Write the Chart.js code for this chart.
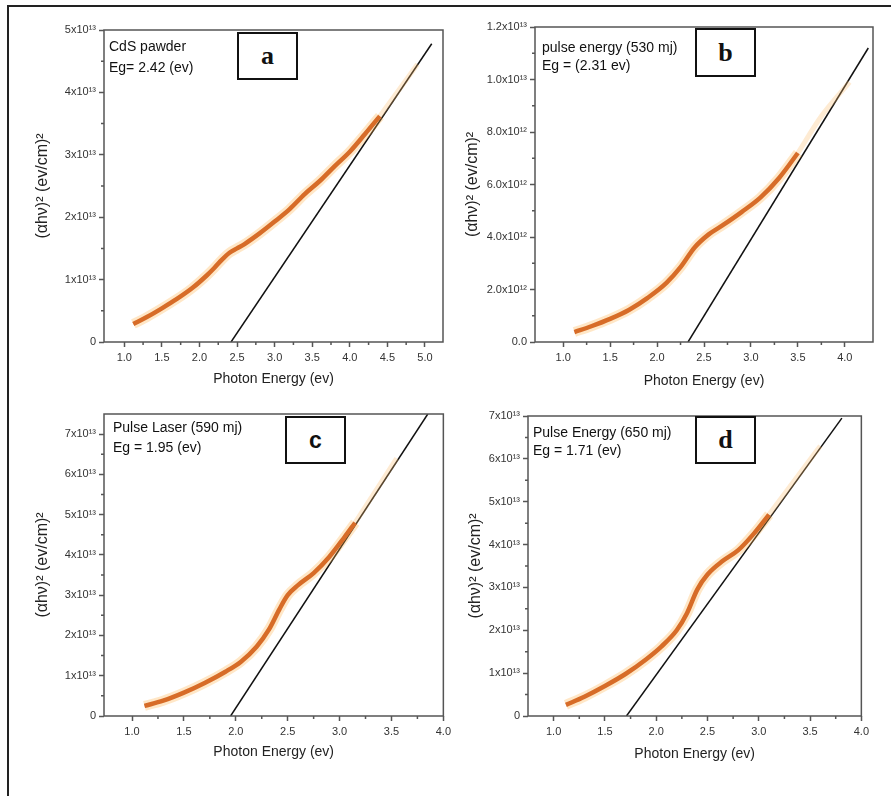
<!DOCTYPE html>
<html><head><meta charset="utf-8">
<script src="https://cdn.jsdelivr.net/npm/chart.js@4.4.1/dist/chart.umd.min.js"></script>
<style>
body{margin:0;background:#fff;width:891px;height:796px;overflow:hidden;position:relative;font-family:"Liberation Sans",Arial,sans-serif}
.frame{position:absolute;left:7px;top:5px;width:900px;height:820px;border-top:2px solid #222;border-left:2px solid #222}
.cv{position:absolute}
.note{position:absolute;font-size:14px;color:#111;white-space:nowrap}
.tag{position:absolute;border:2px solid #111;box-sizing:border-box;display:flex;align-items:center;justify-content:center;font-family:"Liberation Serif","Times New Roman",serif;font-weight:bold;font-size:26px;color:#111;background:#fff;line-height:1}
</style></head><body>
<div class="frame"></div>
<canvas id="ca" class="cv" width="420" height="368" style="left:33px;top:20px"></canvas>
<canvas id="cb" class="cv" width="420" height="373" style="left:463px;top:17px"></canvas>
<canvas id="cc" class="cv" width="422" height="357" style="left:33px;top:404px"></canvas>
<canvas id="cd" class="cv" width="407" height="357" style="left:466px;top:406px"></canvas>

<div class="note" style="left:109px;top:36px;line-height:21px">CdS pawder<br>Eg= 2.42 (ev)</div>
<div class="note" style="left:542px;top:38px;line-height:18px">pulse energy (530 mj)<br>Eg = (2.31 ev)</div>
<div class="note" style="left:113px;top:417px;line-height:20px">Pulse Laser (590 mj)<br>Eg = 1.95 (ev)</div>
<div class="note" style="left:533px;top:423px;line-height:18px">Pulse Energy (650 mj)<br>Eg = 1.71 (ev)</div>

<div class="tag" style="left:237px;top:32px;width:61px;height:48px">a</div>
<div class="tag" style="left:695px;top:28px;width:61px;height:49px">b</div>
<div class="tag" style="left:285px;top:416px;width:61px;height:48px;font-family:'Liberation Sans',Arial,sans-serif;font-size:23px">c</div>
<div class="tag" style="left:695px;top:416px;width:61px;height:48px">d</div>

<script>
// ---------- Panel a : CdS powder ----------
const aX = [1.12, 1.3, 1.5, 1.7, 1.9, 2.1, 2.2, 2.3, 2.4, 2.5, 2.6, 2.8, 3.0, 3.2, 3.4, 3.6, 3.8, 4.0, 4.2, 4.4];
const aY = [0.29e13, 0.40e13, 0.54e13, 0.69e13, 0.86e13, 1.07e13, 1.19e13, 1.32e13, 1.43e13, 1.50e13, 1.57e13, 1.74e13, 1.93e13, 2.13e13, 2.37e13, 2.58e13, 2.82e13, 3.05e13, 3.33e13, 3.62e13];
const aTailX = [4.4, 4.6, 4.9];
const aTailY = [3.62e13, 3.95e13, 4.45e13];
const aFitX = [2.42, 5.09];
const aFitY = [0, 4.78e13];
const aXTicks = [1.0, 1.5, 2.0, 2.5, 3.0, 3.5, 4.0, 4.5, 5.0];
const aXLabels = ["1.0", "1.5", "2.0", "2.5", "3.0", "3.5", "4.0", "4.5", "5.0"];
const aYTicks = [0, 1e13, 2e13, 3e13, 4e13, 5e13];
const aYLabels = ["0", "1x10¹³", "2x10¹³", "3x10¹³", "4x10¹³", "5x10¹³"];

// ---------- Panel b : 530 mJ ----------
const bX = [1.12, 1.3, 1.5, 1.7, 1.9, 2.1, 2.25, 2.4, 2.55, 2.7, 2.9, 3.1, 3.3, 3.5];
const bY = [0.38e12, 0.60e12, 0.88e12, 1.22e12, 1.68e12, 2.25e12, 2.85e12, 3.60e12, 4.10e12, 4.45e12, 4.95e12, 5.50e12, 6.25e12, 7.20e12];
const bTailX = [3.5, 3.75, 4.05];
const bTailY = [7.2e12, 8.6e12, 9.9e12];
const bFitX = [2.33, 4.25];
const bFitY = [0, 11.2e12];
const bXTicks = [1.0, 1.5, 2.0, 2.5, 3.0, 3.5, 4.0];
const bXLabels = ["1.0", "1.5", "2.0", "2.5", "3.0", "3.5", "4.0"];
const bYTicks = [0, 2e12, 4e12, 6e12, 8e12, 1e13, 1.2e13];
const bYLabels = ["0.0", "2.0x10¹²", "4.0x10¹²", "6.0x10¹²", "8.0x10¹²", "1.0x10¹³", "1.2x10¹³"];

// ---------- Panel c : 590 mJ ----------
const cX = [1.12, 1.3, 1.5, 1.7, 1.9, 2.05, 2.2, 2.32, 2.42, 2.5, 2.6, 2.75, 2.9, 3.05, 3.15];
const cY = [0.25e13, 0.38e13, 0.58e13, 0.82e13, 1.10e13, 1.35e13, 1.72e13, 2.15e13, 2.65e13, 3.0e13, 3.25e13, 3.55e13, 3.95e13, 4.45e13, 4.8e13];
const cTailX = [3.15, 3.35, 3.55];
const cTailY = [4.8e13, 5.6e13, 6.4e13];
const cFitX = [1.95, 3.85];
const cFitY = [0, 7.5e13];
const cXTicks = [1.0, 1.5, 2.0, 2.5, 3.0, 3.5, 4.0];
const cXLabels = ["1.0", "1.5", "2.0", "2.5", "3.0", "3.5", "4.0"];
const cYTicks = [0, 1e13, 2e13, 3e13, 4e13, 5e13, 6e13, 7e13];
const cYLabels = ["0", "1x10¹³", "2x10¹³", "3x10¹³", "4x10¹³", "5x10¹³", "6x10¹³", "7x10¹³"];

// ---------- Panel d : 650 mJ ----------
const dX = [1.12, 1.3, 1.5, 1.7, 1.9, 2.05, 2.2, 2.3, 2.4, 2.5, 2.65, 2.8, 2.95, 3.1];
const dY = [0.26e13, 0.45e13, 0.70e13, 0.98e13, 1.32e13, 1.62e13, 2.0e13, 2.4e13, 2.95e13, 3.3e13, 3.62e13, 3.87e13, 4.25e13, 4.7e13];
const dTailX = [3.1, 3.35, 3.6];
const dTailY = [4.7e13, 5.5e13, 6.3e13];
const dFitX = [1.71, 3.81];
const dFitY = [0, 6.95e13];
const dXTicks = [1.0, 1.5, 2.0, 2.5, 3.0, 3.5, 4.0];
const dXLabels = ["1.0", "1.5", "2.0", "2.5", "3.0", "3.5", "4.0"];
const dYTicks = [0, 1e13, 2e13, 3e13, 4e13, 5e13, 6e13, 7e13];
const dYLabels = ["0", "1x10¹³", "2x10¹³", "3x10¹³", "4x10¹³", "5x10¹³", "6x10¹³", "7x10¹³"];

const xTitle = "Photon Energy (ev)";
const yTitle = "(αhν)² (ev/cm)²";

const pts = (xs, ys) => xs.map((x, i) => ({x: x, y: ys[i]}));
const mids = t => t.slice(1).map((v, i) => (v + t[i]) / 2);

const framePlugin = {
  id: 'frame',
  afterDraw(chart, args, o) {
    const {ctx, chartArea: a, scales: {x, y}} = chart;
    ctx.save();
    ctx.strokeStyle = '#555';
    ctx.lineWidth = 1.5;
    ctx.strokeRect(a.left, a.top, a.right - a.left, a.bottom - a.top);
    ctx.beginPath();
    mids(o.xt).forEach(v => { const p = x.getPixelForValue(v); ctx.moveTo(p, a.bottom); ctx.lineTo(p, a.bottom + 3); });
    mids(o.yt).forEach(v => { const p = y.getPixelForValue(v); ctx.moveTo(a.left - 3, p); ctx.lineTo(a.left, p); });
    ctx.stroke();
    ctx.restore();
  }
};

function make(id, c) {
  new Chart(document.getElementById(id), {
    type: 'line',
    data: {
      datasets: [
        {data: pts(c.tx, c.ty), borderColor: 'rgba(252,190,110,0.3)', borderWidth: 5, pointRadius: 0, cubicInterpolationMode: 'monotone'},
        {data: pts(c.x, c.y), borderColor: 'rgba(255,175,70,0.3)', borderWidth: 10, pointRadius: 0, cubicInterpolationMode: 'monotone'},
        {data: pts(c.x, c.y), borderColor: '#c6501c', borderWidth: 4.5, pointRadius: 0, cubicInterpolationMode: 'monotone'},
        {data: pts(c.fx, c.fy), borderColor: '#111', borderWidth: 1.5, pointRadius: 0}
      ]
    },
    options: {
      responsive: false, animation: false,
      layout: {padding: {top: 10, right: 10, left: 0, bottom: 0}},
      plugins: {legend: {display: false}, tooltip: {enabled: false}, frame: {xt: c.xt, yt: c.yt}},
      scales: {
        x: {
          type: 'linear', min: c.xmin, max: c.xmax,
          afterBuildTicks: s => { s.ticks = c.xt.map(v => ({value: v})); },
          afterFit: s => { s.height = c.xh; },
          ticks: {callback: (v, i) => c.xl[i], autoSkip: false, maxRotation: 0, padding: 4, color: '#333', font: {family: 'Liberation Sans', size: 11}},
          grid: {drawOnChartArea: false, tickLength: 5, tickColor: '#555', tickWidth: 1.5},
          border: {display: false},
          title: {display: true, text: xTitle, padding: 0, color: '#222', font: {family: 'Liberation Sans', size: 14}}
        },
        y: {
          type: 'linear', min: c.ymin, max: c.ymax,
          afterBuildTicks: s => { s.ticks = c.yt.map(v => ({value: v})); },
          afterFit: s => { s.width = c.yw; },
          ticks: {callback: (v, i) => c.yl[i], autoSkip: false, padding: 3, color: '#333', font: {family: 'Liberation Sans', size: 11}},
          grid: {drawOnChartArea: false, tickLength: 5, tickColor: '#555', tickWidth: 1.5},
          border: {display: false},
          title: {display: true, text: yTitle, padding: 0, color: '#222', font: {family: 'Liberation Sans', size: 16}}
        }
      }
    },
    plugins: [framePlugin]
  });
}

make('ca', {x: aX, y: aY, tx: aTailX, ty: aTailY, fx: aFitX, fy: aFitY, xt: aXTicks, xl: aXLabels, yt: aYTicks, yl: aYLabels,
  xmin: 0.73, xmax: 5.24, ymin: 0, ymax: 5e13, yw: 71, xh: 46});
make('cb', {x: bX, y: bY, tx: bTailX, ty: bTailY, fx: bFitX, fy: bFitY, xt: bXTicks, xl: bXLabels, yt: bYTicks, yl: bYLabels,
  xmin: 0.7, xmax: 4.3, ymin: 0, ymax: 1.2e13, yw: 72, xh: 48});
make('cc', {x: cX, y: cY, tx: cTailX, ty: cTailY, fx: cFitX, fy: cFitY, xt: cXTicks, xl: cXLabels, yt: cYTicks, yl: cYLabels,
  xmin: 0.73, xmax: 4.0, ymin: 0, ymax: 7.5e13, yw: 71, xh: 45});
make('cd', {x: dX, y: dY, tx: dTailX, ty: dTailY, fx: dFitX, fy: dFitY, xt: dXTicks, xl: dXLabels, yt: dYTicks, yl: dYLabels,
  xmin: 0.75, xmax: 4.0, ymin: 0, ymax: 7e13, yw: 62, xh: 47});
</script>
</body></html>
